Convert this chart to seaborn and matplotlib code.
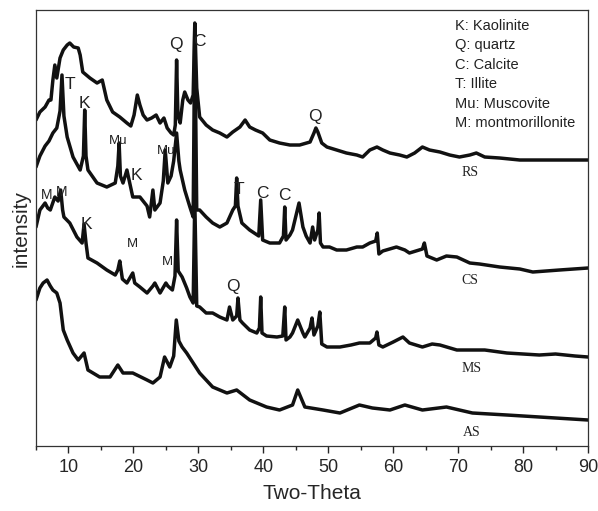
import pandas as pd
import matplotlib
matplotlib.use('Agg')
import matplotlib.pyplot as plt
from matplotlib.ticker import MultipleLocator
import seaborn as sns

# XRD patterns (two-theta in degrees, intensity in arbitrary units, offset stacked)
rs_theta = [5.0, 5.6, 6.4, 7.0, 7.3, 7.6, 7.9, 8.2, 8.7, 9.2, 9.8, 10.2, 10.8, 11.5, 11.8, 12.2,
            13.3, 14.4, 15.2, 15.9, 16.8, 17.9, 19.0, 19.6, 20.1, 20.6, 21.0, 21.5, 22.1, 22.8,
            23.5, 24.1, 24.7, 25.2, 25.8, 26.2, 26.45, 26.65, 26.85, 27.2, 27.6, 27.9, 28.4,
            28.8, 29.2, 29.45, 29.75, 30.2, 31.2, 32.2, 33.3, 34.4, 35.3, 36.4, 37.2, 37.9,
            38.8, 39.9, 41.0, 42.5, 44.1, 45.6, 47.2, 47.8, 48.1, 48.4, 49.0, 49.8, 51.3, 52.8,
            54.4, 55.3, 56.4, 57.5, 58.4, 59.5, 61.0, 62.1, 63.3, 64.5, 65.6, 67.2, 68.7, 70.2,
            71.8, 72.8, 74.1, 76.4, 79.5, 82.5, 85.6, 90.0]
rs_int = [326, 334, 339, 346, 346, 366, 381, 368, 388, 396, 401, 403, 399, 398, 391, 374,
          368, 363, 366, 346, 334, 329, 323, 320, 331, 351, 341, 331, 326, 328,
          331, 323, 328, 318, 313, 311, 321, 386, 331, 323, 346, 354, 346,
          343, 351, 423, 358, 329, 321, 316, 313, 309, 314, 319, 326, 319,
          316, 313, 306, 303, 301, 301, 304, 313, 318, 314, 303, 299, 296, 293,
          291, 289, 296, 299, 296, 293, 291, 289, 293, 299, 296, 294, 291, 289,
          291, 293, 289, 288, 286, 286, 286, 286]

cs_theta = [5.0, 5.6, 6.4, 7.0, 7.6, 8.2, 8.7, 9.0, 9.3, 9.8, 10.7, 11.8, 12.3, 12.5, 12.7,
            13.0, 14.4, 15.9, 17.2, 17.6, 17.8, 18.0, 18.4, 19.0, 19.9, 21.0, 22.1, 22.5, 23.0,
            23.3, 24.1, 24.6, 24.9, 25.3, 25.8, 26.2, 26.65, 27.0, 27.2, 27.9, 28.7, 29.2,
            29.45, 29.75, 30.2, 31.2, 32.2, 33.3, 34.4, 35.3, 35.7, 35.9, 36.1, 36.7, 37.9,
            39.3, 39.6, 39.9, 41.0, 42.5, 43.1, 43.3, 43.5, 44.1, 44.5, 45.5, 46.1, 46.6,
            47.2, 47.6, 47.9, 48.4, 48.6, 48.8, 49.2, 50.2, 51.3, 52.8, 54.4, 55.3, 56.4,
            57.3, 57.55, 57.8, 58.4, 60.5, 61.8, 62.5, 64.5, 64.8, 65.2, 66.7, 68.2, 69.8,
            71.8, 73.3, 76.4, 79.5, 81.5, 85.6, 90.0]
cs_int = [279, 290, 300, 305, 313, 318, 335, 371, 330, 309, 289, 276, 290, 336, 290,
          276, 263, 259, 263, 280, 303, 270, 263, 276, 249, 249, 240, 229, 256,
          236, 243, 265, 296, 263, 270, 285, 313, 285, 276, 256, 239, 229,
          421, 236, 236, 229, 223, 219, 223, 236, 240, 268, 240, 223, 216,
          210, 246, 206, 203, 203, 210, 239, 206, 211, 216, 243, 219, 210,
          203, 219, 206, 216, 233, 203, 199, 199, 196, 196, 199, 199, 203,
          205, 213, 192, 195, 199, 196, 193, 197, 203, 190, 186, 190, 189,
          183, 182, 179, 177, 174, 176, 178]

ms_theta = [5.0, 5.6, 6.4, 6.8, 7.2, 7.9, 8.4, 8.8, 9.1, 9.3, 10.2, 11.3, 12.1, 12.4, 12.7,
            13.0, 14.4, 15.9, 17.2, 17.6, 17.9, 18.3, 19.0, 19.9, 20.2, 21.0, 22.1, 23.0,
            23.3, 24.1, 25.0, 25.3, 26.0, 26.4, 26.65, 26.9, 27.5, 28.2, 28.7, 29.2, 29.45,
            29.75, 30.2, 31.2, 32.2, 33.3, 34.4, 34.8, 35.3, 35.9, 36.1, 36.4, 36.8, 37.9,
            39.0, 39.4, 39.6, 39.8, 40.5, 42.1, 43.0, 43.3, 43.5, 44.1, 44.5, 45.3, 46.1,
            46.4, 47.2, 47.5, 47.8, 48.4, 48.7, 49.0, 49.8, 51.8, 53.5, 54.8, 56.4, 57.3,
            57.5, 57.8, 58.4, 60.0, 61.5, 62.5, 64.5, 66.0, 67.2, 69.8, 72.2, 74.1, 77.5,
            80.0, 82.5, 85.0, 88.0, 90.0]
ms_int = [219, 236, 243, 238, 236, 249, 245, 256, 236, 229, 223, 209, 203, 222, 203,
          188, 183, 176, 171, 176, 185, 167, 163, 173, 163, 159, 153, 160,
          163, 153, 163, 160, 156, 170, 226, 175, 169, 158, 149, 143, 246,
          140, 139, 133, 133, 129, 126, 139, 126, 130, 148, 126, 123, 116,
          113, 118, 149, 113, 110, 109, 110, 139, 106, 109, 113, 126, 113,
          109, 118, 128, 111, 120, 134, 102, 99, 99, 101, 103, 103, 108,
          114, 101, 99, 104, 109, 103, 99, 102, 101, 96, 96, 96, 93,
          92, 91, 92, 90, 89]

as_theta = [5.0, 5.6, 6.1, 6.7, 7.2, 7.6, 8.2, 8.4, 8.7, 9.2, 9.8, 10.7, 11.5, 12.4, 13.0,
            14.8, 16.4, 17.6, 18.4, 19.9, 22.1, 23.0, 24.1, 24.8, 25.6, 26.2, 26.6, 27.0,
            27.5, 28.2, 30.2, 32.2, 34.4, 35.9, 37.9, 40.5, 42.5, 44.5, 45.3, 46.4, 49.2,
            51.8, 54.8, 56.8, 59.5, 61.8, 64.5, 68.2, 72.2, 77.5, 82.5, 90.0]
as_int = [146, 158, 163, 166, 160, 156, 153, 149, 143, 116, 106, 93, 86, 93, 76,
          69, 69, 81, 73, 73, 66, 63, 69, 89, 79, 90, 126, 105,
          99, 93, 73, 59, 53, 56, 46, 39, 36, 41, 56, 39, 36,
          33, 41, 38, 36, 41, 36, 39, 33, 31, 29, 26]

samples = ['RS', 'CS', 'MS', 'AS']
sample_label_pos = [(71.8, 274), (71.8, 166), (72.1, 78), (72.1, 14)]

# phase markers: (text, two-theta, intensity, font size)
peak_labels = [('Q', 26.5, 402, 12.5), ('C', 30.1, 405, 12.5), ('Q', 47.9, 330, 12.5),
               ('T', 10.2, 362, 12.5), ('K', 12.4, 343, 12.5),
               ('Mu', 17.6, 305, 9.5), ('Mu', 25.0, 295, 9.5), ('K', 20.4, 271, 12.5),
               ('T', 36.2, 257, 12.5), ('C', 39.8, 253, 12.5), ('C', 43.2, 251, 12.5),
               ('M', 6.7, 251, 10), ('M', 9.0, 254, 10), ('K', 12.7, 222, 12.5),
               ('M', 19.8, 202, 9.5), ('M', 25.3, 184, 9.5), ('Q', 35.3, 160, 12.5)]

legend_lines = ['K: Kaolinite', 'Q: quartz', 'C: Calcite', 'T: Illite',
                'Mu: Muscovite', 'M: montmorillonite']

df = pd.concat([
    pd.DataFrame({'two_theta': rs_theta, 'intensity': rs_int, 'sample': 'RS'}),
    pd.DataFrame({'two_theta': cs_theta, 'intensity': cs_int, 'sample': 'CS'}),
    pd.DataFrame({'two_theta': ms_theta, 'intensity': ms_int, 'sample': 'MS'}),
    pd.DataFrame({'two_theta': as_theta, 'intensity': as_int, 'sample': 'AS'}),
], ignore_index=True)

sns.set_style('ticks')
plt.rcParams['font.family'] = ['Liberation Sans', 'DejaVu Sans']

fig = plt.figure(figsize=(5.98, 5.11), dpi=100)
ax = fig.add_axes([0.0602, 0.1272, 0.9231, 0.8532])

# thick line stands in for the noisy band of the raw scans
for s in samples:
    sns.lineplot(data=df[df['sample'] == s], x='two_theta', y='intensity',
                 sort=False, estimator=None, color='#111111', linewidth=2.5, ax=ax)

for s, (xx, yy) in zip(samples, sample_label_pos):
    ax.text(xx, yy, s, fontsize=10, family=['Liberation Serif', 'DejaVu Serif'],
            ha='center', va='center', color='#222222')

for txt, xx, yy, fs in peak_labels:
    ax.text(xx, yy, txt, fontsize=fs, ha='center', va='center', color='#222222')

for i, line in enumerate(legend_lines):
    ax.text(69.5, 420 - i * 19.4, line, fontsize=10.5, ha='left', va='center', color='#222222')

ax.set_xlim(5, 90)
ax.set_ylim(0, 436)
ax.xaxis.set_major_locator(MultipleLocator(10))
ax.xaxis.set_minor_locator(MultipleLocator(5))
ax.set_yticks([])
ax.tick_params(axis='x', which='major', length=5, width=1, labelsize=13, direction='out', pad=4)
ax.tick_params(axis='x', which='minor', length=3, width=1, direction='out')
for sp in ax.spines.values():
    sp.set_visible(True)
    sp.set_linewidth(0.9)
    sp.set_color('#333333')
ax.set_xlabel('Two-Theta', fontsize=15, labelpad=6)
ax.set_ylabel('intensity', fontsize=15, labelpad=4)

fig.savefig('out.png', dpi=100)
